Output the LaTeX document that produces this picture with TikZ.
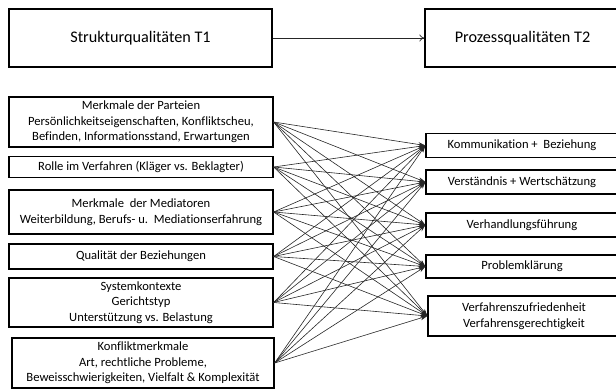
\documentclass[tikz,border=0pt]{standalone}
\usepackage{fontspec}
\setmainfont[Ligatures=NoCommon]{Carlito}
\usetikzlibrary{arrows.meta}

\begin{document}
\begin{tikzpicture}[x=1pt,y=-1pt,
  box/.style={draw, line width=1.3pt, inner sep=0pt, align=center,
    font=\fontsize{12.6}{15.5}\selectfont},
  headbox/.style={box, font=\fontsize{16.2}{19}\selectfont},
  conn/.style={draw=black!85, line width=0.6pt,
    -{Stealth[length=7pt,width=4.5pt]}},
  link/.style={draw=black!85, line width=0.7pt, -{To[length=5pt,width=7pt]}}]

\useasboundingbox (0,0) rectangle (616,389);
\clip (0,0) rectangle (616,389);

% header boxes
\node[headbox, minimum width=263pt, minimum height=58pt] (tl) at (140.5,38) {Strukturqualitäten T1};
\node[headbox, minimum width=195pt, minimum height=58pt] (tr) at (522.5,38) {Prozessqualitäten T2};
\draw[link] (tl) -- (tr);

% structural factors (left column)
\node[box, minimum width=264pt, minimum height=50pt] (l1) at (141,122)
  {Merkmale der Parteien\\Persönlichkeitseigenschaften, Konfliktscheu,\\Befinden, Informationsstand, Erwartungen};
\node[box, minimum width=264pt, minimum height=20.5pt] (l2) at (141,167)
  {Rolle im Verfahren (Kläger vs. Beklagter)};
\node[box, minimum width=264pt, minimum height=44pt] (l3) at (141,212)
  {Merkmale\ \ der Mediatoren\\Weiterbildung, Berufs- u.\ \ Mediationserfahrung};
\node[box, minimum width=264pt, minimum height=25pt] (l4) at (141,256.5)
  {Qualität der Beziehungen};
\node[box, minimum width=264pt, minimum height=49pt] (l5) at (141,302.5)
  {Systemkontexte\\Gerichtstyp\\Unterstützung vs. Belastung};
\node[box, minimum width=262pt, minimum height=50pt] (l6) at (143,363)
  {Konfliktmerkmale\\Art, rechtliche Probleme,\\Beweisschwierigkeiten, Vielfalt \& Komplexität};

% process qualities (right column)
\node[box, minimum width=192pt, minimum height=24pt] (r1) at (522,145.5)
  {Kommunikation +\ \ Beziehung};
\node[box, minimum width=192pt, minimum height=24pt] (r2) at (522,182)
  {Verständnis + Wertschätzung};
\node[box, minimum width=192pt, minimum height=24pt] (r3) at (522,225)
  {Verhandlungsführung};
\node[box, minimum width=192pt, minimum height=23pt] (r4) at (522,266.5)
  {Problemklärung};
\node[box, minimum width=192pt, minimum height=40pt] (r5) at (524,316)
  {Verfahrenszufriedenheit\\Verfahrensgerechtigkeit};

% every structural factor points to every process quality
\foreach \l in {l1,l2,l3,l4,l5,l6}
  \foreach \r in {r1,r2,r3,r4,r5}
    \draw[conn] (\l.east) -- (\r.west);
\end{tikzpicture}
\end{document}
